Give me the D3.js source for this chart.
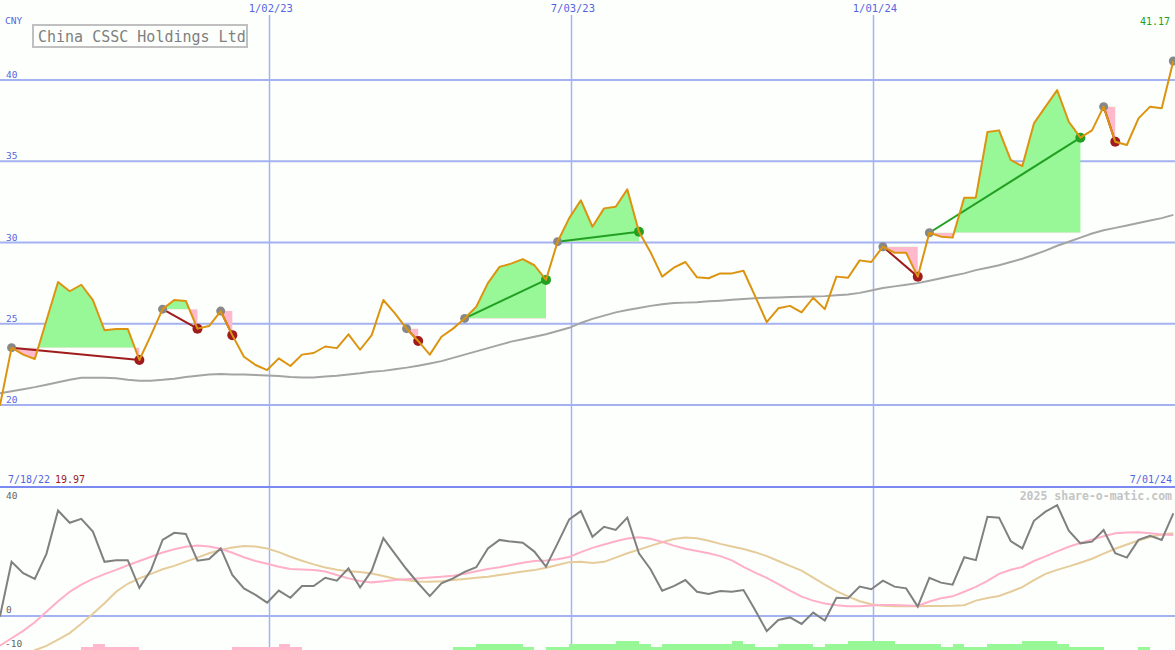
<!DOCTYPE html>
<html>
<head>
<meta charset="utf-8">
<script src="https://cdn.jsdelivr.net/npm/d3@7/dist/d3.min.js"></script>
<style>
  html, body { margin: 0; padding: 0; background: #fcfffc; }
  svg { display: block; }
</style>
</head>
<body>
<svg id="chart" width="1175" height="650"></svg>
<script>
// ---------------- DATA ----------------
const title = "China CSSC Holdings Ltd";
const currency = "CNY";
const copyright = "2025 share-o-matic.com";
const rangeStart = "2022-07-18";
const rangeEnd = "2024-07-01";
const firstWeek = "2022-07-24";
const gridDates = ["2023-01-02", "2023-07-03", "2024-01-01"];
const priceTicks = [20, 25, 30, 35, 40];
const oscTicks = [40, 0, -10];

const price = [
  19.97, 23.53, 23.1, 22.83, 25.2, 27.57, 27.0, 27.4, 26.46, 24.6,
  24.68, 24.68, 22.77, 24.3, 25.9, 26.46, 26.4, 24.7, 24.86, 25.78,
  24.3, 22.97, 22.46, 22.15, 22.87, 22.4, 23.1, 23.2, 23.6, 23.5,
  24.35, 23.4, 24.3, 26.46, 25.64, 24.7, 23.94, 23.1, 24.2, 24.7,
  25.33, 26.05, 27.5, 28.5, 28.7, 28.98, 28.6, 27.7, 30.05, 31.5,
  32.6, 30.97, 32.1, 32.2, 33.27, 30.66, 29.4, 27.9, 28.45, 28.8,
  27.86, 27.8, 28.1, 28.1, 28.26, 26.7, 25.1, 25.95, 26.1, 25.7,
  26.6, 25.9, 27.9, 27.83, 28.9, 28.8, 29.74, 29.37, 29.37, 27.9,
  30.6, 30.36, 30.3, 32.76, 32.76, 36.8, 36.9, 35.08, 34.7, 37.33,
  38.36, 39.38, 37.43, 36.45, 36.9, 38.36, 36.2, 36.0, 37.64, 38.36,
  38.26, 41.17
];

const priceMA = [
  20.72, 20.85, 20.97, 21.1, 21.25, 21.4, 21.55, 21.68, 21.68, 21.68,
  21.65, 21.55, 21.5, 21.5, 21.55, 21.62, 21.72, 21.8, 21.88, 21.9,
  21.88, 21.87, 21.85, 21.82, 21.78, 21.72, 21.7, 21.7, 21.75, 21.8,
  21.88, 21.95, 22.05, 22.1, 22.2, 22.3, 22.42, 22.55, 22.7, 22.9,
  23.1, 23.3, 23.5, 23.7, 23.9, 24.05, 24.2, 24.35, 24.55, 24.75,
  25.05, 25.3, 25.5, 25.7, 25.85, 25.97, 26.1, 26.2, 26.27, 26.3,
  26.33, 26.38, 26.42, 26.47, 26.52, 26.57, 26.6, 26.62, 26.64, 26.66,
  26.68, 26.7, 26.75, 26.8, 26.9, 27.05, 27.2, 27.3, 27.4, 27.5,
  27.65, 27.8, 27.95, 28.1, 28.3, 28.45, 28.6, 28.8, 29.0, 29.25,
  29.5, 29.8, 30.05, 30.3, 30.55, 30.75, 30.9, 31.05, 31.2, 31.35,
  31.5, 31.7
];

// signal start / end week indices (null = still open)
const signalStart = [1, 14, 19, 35, 40, 48, 76, 80, 95, 101];
const signalEnd   = [12, 17, 20, 36, 47, 55, 79, 93, 96, null];

const osc = [
  -0.2, 19, 15, 13, 21.8, 37, 32.7, 34.1, 29.6, 19,
  19.6, 19.6, 9.9, 16.1, 26.7, 29.2, 28.8, 19.4, 20, 23.7,
  14.4, 9.7, 7.4, 4.7, 8.9, 6.4, 10.5, 10.5, 13.4, 12.4,
  16.7, 10, 15.9, 27.3, 21.8, 16.4, 11.5, 7, 11.5, 13.2,
  15.5, 17.1, 23.7, 26.7, 26.1, 25.7, 22.6, 17.3, 25.5, 33.9,
  36.8, 27.8, 31.3, 30.2, 34.5, 22, 16.4, 8.9, 10.5, 12.6,
  8.5, 7.7, 8.8, 8.5, 9.1, 2.1, -5.3, -1.4, -0.5, -2.8,
  1.2, -1.6, 6.4, 6.2, 10.3, 9.4, 12.4, 10.3, 9.7, 3.3,
  13.4, 11.7, 11, 20.6, 19.6, 34.8, 34.5, 26.3, 23.7, 33.4,
  36.6, 38.9, 29.9, 25.5, 26.1, 30.2, 22, 20.5, 26.7, 28.1,
  26.7, 36
];

const oscFast = [
  -10.4, -7.8, -5.2, -2.2, 1.5, 5.2, 8.5, 11, 13, 14.7,
  16.2, 17.8, 19.3, 20.8, 22.3, 23.4, 24.3, 24.7, 24.4, 23.6,
  22.2, 20.6, 19.3, 18.3, 17.3, 16.5, 16.3, 16.1, 15.6, 14.4,
  13.2, 12.3, 11.8, 12.2, 12.6, 12.9, 13.2, 13.5, 13.8, 14.1,
  14.8, 15.7, 16.5, 17.1, 17.9, 18.7, 19.3, 19.5, 19.9, 20.7,
  22.4, 23.9, 25.1, 26.2, 27.2, 27.6, 27.1, 26.0, 24.7, 23.6,
  22.8, 22.0, 21.0, 19.5, 17.2, 15.2, 13.4, 11.2, 8.9, 6.8,
  5.4, 4.4, 3.8, 3.4, 3.4, 3.7, 3.9, 3.9, 3.7, 3.5,
  5.1, 6.2, 6.9, 8.5, 10.2, 12.3, 14.8, 16.2, 17.2, 19.3,
  20.9, 22.7, 24.3, 25.6, 26.8, 28.0, 29.0, 29.3, 29.4, 29.0,
  28.6, 28.4
];

const oscSlow = [
  -20, -17, -14.5, -12, -10.5, -8.3, -6, -2.7, 0.8, 4.5,
  8.5, 11.3, 13.2, 14.8, 16.4, 17.6, 19.1, 20.5, 22.0, 23.2,
  24.0, 24.6, 24.4, 23.7, 22.4, 20.8, 19.4, 18.1, 17.0, 16.2,
  15.7, 15.4, 14.9, 14.0, 13.1, 12.5, 12.1, 12.0, 12.2, 12.6,
  13.0, 13.4, 13.8, 14.4, 15.0, 15.6, 16.1, 16.9, 17.9, 18.9,
  19.0, 18.6, 19.0, 20.5, 22.0, 23.3, 24.6, 25.9, 27.0, 27.5,
  27.3, 26.4, 25.3, 24.4, 23.5, 22.4, 21.0, 19.3, 17.6, 15.9,
  13.5, 11.0, 8.7, 6.9, 5.2, 4.1, 3.6, 3.4, 3.4, 3.4,
  3.5, 3.5, 3.6, 3.8, 5.4, 6.3, 7.0, 8.5, 10.1, 12.6,
  14.8, 16.2, 17.4, 18.7, 20.1, 21.9, 23.6, 25.1, 26.5, 27.7,
  28.6, 29.0
];

// weekly histogram level (positive = green, negative = pink)
const histo = [
  0, 0, 0, 0, 0, 0, 0, -1, -2, -1,
  -1, -1, 0, 0, 0, 0, 0, 0, 0, 0,
  -1, -1, -1, -1, -2, -1, 0, 0, 0, 0,
  0, 0, 0, 0, 0, 0, 0, 0, 0, 1,
  1, 2, 2, 2, 2, 1, 0, 1, 1, 2,
  2, 2, 2, 3, 3, 2, 1, 2, 2, 2,
  2, 2, 2, 3, 2, 1, 1, 2, 2, 2,
  1, 2, 2, 3, 3, 3, 3, 2, 2, 2,
  2, 1, 2, 1, 1, 2, 2, 2, 3, 3,
  3, 2, 1, 1, 1, 0, 0, 0, 1, 0,
  0, 0
];

// ---------------- CHART ----------------
const W = 1175, H = 650;
const parse = d3.timeParse("%Y-%m-%d");
const fmt = d3.timeFormat("%-m/%d/%y");
const t0 = parse(rangeStart), t1 = parse(rangeEnd);
const dates = d3.timeSunday.range(parse(firstWeek), d3.timeDay.offset(t1, 1)).slice(0, price.length);

const x = d3.scaleTime().domain([t0, t1]).range([-10, W]);
const yP = d3.scaleLinear().domain([20, 40]).range([405, 80]);
const yO = d3.scaleLinear().domain([0, 40]).range([616, 502]);
const yH = d3.scaleLinear().domain([0, 3]).range([0, 9]);

const C = {
  bg: "#fcfffc", grid: "#a4b2f2", sep: "#7b8af0", label: "#5565e0",
  price: "#dc9410", ma: "#a4a4a4", green: "#98f898", pink: "#ffb8cc",
  upLine: "#22a022", downLine: "#a01c1c", startDot: "#888888",
  osc: "#808080", fast: "#ffb0c8", slow: "#e6cc9a", oscLabel: "#666666"
};
const font = "'DejaVu Sans Mono', monospace";

const svg = d3.select("#chart");
svg.append("rect").attr("width", W).attr("height", H).attr("fill", C.bg);

// vertical date gridlines
const gd = gridDates.map(parse);
svg.append("g").selectAll("line").data(gd).join("line")
  .attr("x1", d => Math.round(x(d)) + 0.5).attr("x2", d => Math.round(x(d)) + 0.5)
  .attr("y1", 15).attr("y2", H)
  .attr("stroke", C.grid).attr("stroke-width", 1.5);

// horizontal price gridlines
svg.append("g").selectAll("line").data(priceTicks).join("line")
  .attr("x1", 0).attr("x2", W)
  .attr("y1", d => yP(d)).attr("y2", d => yP(d))
  .attr("stroke", C.grid).attr("stroke-width", 2);

// separator + oscillator zero line
svg.append("line").attr("x1", 0).attr("x2", W).attr("y1", 487).attr("y2", 487)
  .attr("stroke", C.sep).attr("stroke-width", 2);
svg.append("line").attr("x1", 0).attr("x2", W).attr("y1", yO(0)).attr("y2", yO(0))
  .attr("stroke", C.grid).attr("stroke-width", 2);

// signal fills
const defs = svg.append("defs");
const fills = svg.append("g");
signalStart.forEach((s, k) => {
  const e = signalEnd[k];
  if (e === null) return;
  const base = price[s];
  const pts = d3.range(s, e + 1);
  const area = d3.area()
    .x(i => x(dates[i])).y0(yP(base)).y1(i => yP(price[i]));
  const by = yP(base);
  const cg = defs.append("clipPath").attr("id", "cg" + k);
  cg.append("rect").attr("x", 0).attr("y", 0).attr("width", W).attr("height", by);
  const cp = defs.append("clipPath").attr("id", "cp" + k);
  cp.append("rect").attr("x", 0).attr("y", by).attr("width", W).attr("height", H - by);
  fills.append("path").attr("d", area(pts)).attr("fill", C.green).attr("clip-path", `url(#cg${k})`);
  fills.append("path").attr("d", area(pts)).attr("fill", C.pink).attr("clip-path", `url(#cp${k})`);
});

// moving average
const lineP = arr => d3.line().x((d, i) => x(dates[i])).y(d => yP(d))(arr);
svg.append("path").attr("d", lineP(priceMA)).attr("fill", "none")
  .attr("stroke", C.ma).attr("stroke-width", 2);

// signal connectors and dots
const sig = svg.append("g");
signalStart.forEach((s, k) => {
  const e = signalEnd[k];
  if (e !== null) {
    const up = price[e] >= price[s];
    sig.append("line")
      .attr("x1", x(dates[s])).attr("y1", yP(price[s]))
      .attr("x2", x(dates[e])).attr("y2", yP(price[e]))
      .attr("stroke", up ? C.upLine : C.downLine).attr("stroke-width", 2);
  }
});
signalStart.forEach((s, k) => {
  const e = signalEnd[k];
  sig.append("circle").attr("cx", x(dates[s])).attr("cy", yP(price[s])).attr("r", 4.5)
    .attr("fill", C.startDot);
  if (e !== null) {
    const up = price[e] >= price[s];
    sig.append("circle").attr("cx", x(dates[e])).attr("cy", yP(price[e])).attr("r", 5)
      .attr("fill", up ? C.upLine : C.downLine);
  }
});

// price line
svg.append("path").attr("d", lineP(price)).attr("fill", "none")
  .attr("stroke", C.price).attr("stroke-width", 2).attr("stroke-linejoin", "round");

// oscillator panel
const lineO = arr => d3.line().x((d, i) => x(dates[i])).y(d => yO(d))(arr);
const oscG = svg.append("g");
oscG.append("path").attr("d", lineO(oscSlow)).attr("fill", "none").attr("stroke", C.slow).attr("stroke-width", 2);
oscG.append("path").attr("d", lineO(oscFast)).attr("fill", "none").attr("stroke", C.fast).attr("stroke-width", 2);
oscG.append("path").attr("d", lineO(osc)).attr("fill", "none").attr("stroke", C.osc).attr("stroke-width", 2);

// histogram bars at bottom
svg.append("g").selectAll("rect").data(histo.map((v, i) => ({ v, i })).filter(d => d.v !== 0)).join("rect")
  .attr("x", d => x(dates[d.i]))
  .attr("width", d => (d.i + 1 < dates.length ? x(dates[d.i + 1]) : x(d3.timeDay.offset(dates[d.i], 7))) - x(dates[d.i]))
  .attr("y", d => H - yH(Math.abs(d.v)))
  .attr("height", d => yH(Math.abs(d.v)))
  .attr("fill", d => d.v > 0 ? C.green : C.pink)
  .attr("shape-rendering", "crispEdges");

// ---------------- TEXT ----------------
const txt = svg.append("g").style("font-family", font);
// date labels at top
txt.selectAll("text.date").data(gd).join("text").attr("class", "date")
  .attr("x", d => x(d) + 2).attr("y", 12).attr("text-anchor", "middle")
  .attr("font-size", 10.5).attr("fill", C.label).text(d => fmt(d));
// currency
txt.append("text").attr("x", 5).attr("y", 24).attr("font-size", 9.5).attr("fill", C.label).text(currency);
// price tick labels
txt.selectAll("text.pt").data(priceTicks).join("text").attr("class", "pt")
  .attr("x", 6).attr("y", d => yP(d) - 2).attr("font-size", 9.5).attr("fill", C.label).text(d => d);
// last price
txt.append("text").attr("x", 1170).attr("y", 25).attr("text-anchor", "end")
  .attr("font-size", 10).attr("fill", "#22a022").text(price[price.length - 1].toFixed(2));
// range labels
txt.append("text").attr("x", 8).attr("y", 483).attr("font-size", 10).attr("fill", C.label).text(fmt(t0));
txt.append("text").attr("x", 55).attr("y", 483).attr("font-size", 10).attr("fill", "#a01c1c").text(price[0].toFixed(2));
txt.append("text").attr("x", 1172).attr("y", 483).attr("text-anchor", "end")
  .attr("font-size", 10).attr("fill", C.label).text(fmt(t1));
// copyright
txt.append("text").attr("x", 1172).attr("y", 500).attr("text-anchor", "end")
  .attr("font-size", 11.5).attr("font-weight", "bold").attr("fill", "#c4c4c4").text(copyright);
// oscillator labels
txt.selectAll("text.ot").data(oscTicks).join("text").attr("class", "ot")
  .attr("x", d => d < 0 ? 5 : 6).attr("y", d => d < 0 ? yO(d) + 2 : yO(d) - 3.5).attr("font-size", 9.5)
  .attr("fill", C.oscLabel).text(d => d);

// title box
const tb = svg.append("g");
tb.append("rect").attr("x", 33).attr("y", 25).attr("width", 214).attr("height", 22)
  .attr("fill", C.bg).attr("stroke", "#c0c0c0").attr("stroke-width", 2);
tb.append("text").attr("x", 38).attr("y", 41.5).style("font-family", font)
  .attr("font-size", 15).attr("fill", "#808080").text(title);
</script>
</body>
</html>
